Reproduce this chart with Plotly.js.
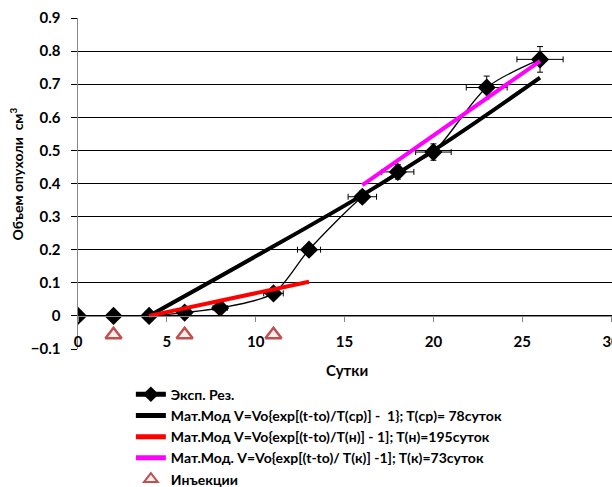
<!DOCTYPE html>
<html>
<head>
<meta charset="utf-8">
<script src="https://cdn.plot.ly/plotly-3.0.1.min.js"></script>
<style>html,body{margin:0;padding:0;background:#fff}#chart{width:612px;height:487px}</style>
</head>
<body>
<div id="chart"></div>
<script>
// Experimental results
var expDays = [0, 2, 4, 6, 8, 11, 13, 16, 18, 20, 23, 26];
var expVolume = [0, 0, 0, 0.01, 0.024, 0.068, 0.2, 0.36, 0.435, 0.495, 0.69, 0.775];
// Model with T(ср)=78
var modelAvgDays = [4, 10, 16, 21, 26];
var modelAvgVolume = [0, 0.18, 0.365, 0.535, 0.72];
// Model with T(н)=195
var modelSlowDays = [4, 13];
var modelSlowVolume = [0, 0.103];
// Model with T(к)=73
var modelFastDays = [16, 26];
var modelFastVolume = [0.395, 0.77];
// Injections
var injDays = [2, 6, 11];
var injLevel = [-0.057, -0.057, -0.057];

var names = [
  'Эксп. Рез.',
  'Мат.Мод V=Vo{exp[(t-to)/T(ср)] -  1}; T(ср)= 78суток',
  'Мат.Мод V=Vo{exp[(t-to)/T(н)] - 1]; T(н)=195суток',
  'Мат.Мод. V=Vo{exp[(t-to)/ T(к)] -1]; T(к)=73суток',
  'Инъекции'
];

var FONT = 'Lato, "Liberation Sans", sans-serif';

var traces = [
  {x: expDays, y: expVolume, name: names[0], mode: 'lines+markers', type: 'scatter',
   line: {color: '#000', width: 1.3, shape: 'spline', smoothing: 0.8},
   marker: {symbol: 'diamond', size: 14, color: '#000'},
   error_x: {type: 'percent', value: 5, color: '#000', thickness: 1, width: 3},
   error_y: {type: 'percent', value: 5, color: '#000', thickness: 1, width: 3}},
  {x: modelAvgDays, y: modelAvgVolume, name: names[1], mode: 'lines', type: 'scatter',
   line: {color: '#000', width: 4, shape: 'spline'}},
  {x: modelSlowDays, y: modelSlowVolume, name: names[2], mode: 'lines', type: 'scatter',
   line: {color: '#ff0000', width: 4}},
  {x: modelFastDays, y: modelFastVolume, name: names[3], mode: 'lines', type: 'scatter',
   line: {color: '#ff00ff', width: 4}},
  {x: injDays, y: injLevel, name: names[4], mode: 'markers', type: 'scatter',
   marker: {symbol: 'triangle-up', size: 14, color: '#fbeeee', line: {color: '#c0504d', width: 2.5}}}
];

var layout = {
  width: 612, height: 487,
  margin: {l: 78, r: 0, t: 18, b: 138, pad: 0, autoexpand: false},
  paper_bgcolor: '#fff', plot_bgcolor: '#fff',
  font: {family: FONT, size: 12, color: '#000'},
  showlegend: true,
  xaxis: {
    range: [0, 30.05], dtick: 5, tick0: 0,
    anchor: 'free', position: 0.1,
    showgrid: false, zeroline: false,
    showline: true, linecolor: '#888', linewidth: 1.5,
    ticks: 'outside', ticklen: 5, tickcolor: '#888', tickwidth: 1,
    ticklabelstandoff: 7, ticklabeloverflow: 'allow',
    tickfont: {family: FONT, size: 15, weight: 'bold', color: '#000'}
  },
  yaxis: {
    range: [-0.1, 0.9], dtick: 0.1, tick0: 0,
    showgrid: true, gridcolor: '#000', gridwidth: 1,
    zeroline: false,
    showline: true, linecolor: '#888', linewidth: 1.5,
    ticks: 'outside', ticklen: 6, tickcolor: '#000', tickwidth: 1,
    ticklabelstandoff: 7,
    tickfont: {family: FONT, size: 15, weight: 'bold', color: '#000'}
  },
  legend: {
    x: 0.099, xanchor: 'left', y: -0.44, yanchor: 'bottom',
    itemsizing: 'constant',
    font: {family: FONT, size: 14, weight: 'bold', color: '#000'},
    bgcolor: 'rgba(0,0,0,0)', tracegroupgap: 0
  },
  annotations: [
    {text: 'Объем опухоли  см<sup>3</sup>', textangle: -90, showarrow: false,
     xref: 'paper', yref: 'paper', x: -0.115, y: 0.529, xanchor: 'center', yanchor: 'middle',
     font: {family: FONT, size: 14, weight: 'bold', color: '#000'}},
    {text: 'Сутки', showarrow: false, xref: 'paper', yref: 'paper',
     x: 0.504, y: -0.063, xanchor: 'center', yanchor: 'middle',
     font: {family: FONT, size: 15, weight: 'bold', color: '#000'}}
  ]
};

Plotly.newPlot('chart', traces, layout, {displayModeBar: false, staticPlot: true});
</script>
</body>
</html>
